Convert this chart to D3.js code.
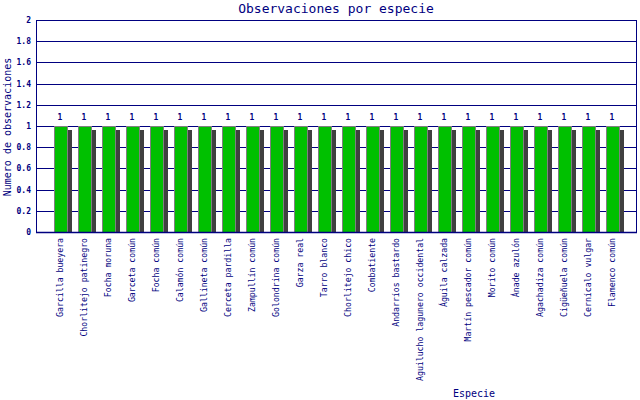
<!DOCTYPE html>
<html>
<head>
<meta charset="utf-8">
<script src="https://cdn.jsdelivr.net/npm/d3@7"></script>
<style>
  body { margin: 0; background: #fff; }
  text { font-family: "DejaVu Sans Mono", monospace; fill: #000080; }
</style>
</head>
<body>
<div id="chart"></div>
<script>
// Data
const species = [
  'Garcilla bueyera', 'Chorlitejo patinegro', 'Focha moruna', 'Garceta común',
  'Focha común', 'Calamón común', 'Gallineta común', 'Cerceta pardilla',
  'Zampullín común', 'Golondrina común', 'Garza real', 'Tarro blanco',
  'Chorlitejo chico', 'Combatiente', 'Andarríos bastardo', 'Aguilucho lagunero occidental',
  'Águila calzada', 'Martín pescador común', 'Morito común', 'Ánade azulón',
  'Agachadiza común', 'Cigüeñuela común', 'Cernícalo vulgar', 'Flamenco común'
];
const counts = [1, 1, 1, 1, 1, 1, 1, 1, 1, 1, 1, 1, 1, 1, 1, 1, 1, 1, 1, 1, 1, 1, 1, 1];
const yTicks = [0, 0.2, 0.4, 0.6, 0.8, 1, 1.2, 1.4, 1.6, 1.8, 2];

const data = species.map((s, i) => ({ name: s, value: counts[i] }));

const width = 640, height = 400;
const plot = { left: 36, right: 636, top: 20, bottom: 232 };

const svg = d3.select('#chart').append('svg')
  .attr('width', width)
  .attr('height', height);

const xScale = d3.scaleBand().domain(species).range([48, 624]);
const yScale = d3.scaleLinear().domain([0, 2]).range([plot.bottom, plot.top]);

// Grid lines
svg.append('g')
  .selectAll('line')
  .data(yTicks)
  .enter()
  .append('line')
  .attr('x1', plot.left)
  .attr('x2', plot.right)
  .attr('y1', (d) => Math.round(yScale(d)) + 0.5)
  .attr('y2', (d) => Math.round(yScale(d)) + 0.5)
  .attr('stroke', '#000080')
  .attr('stroke-width', 1);

// Right frame line
svg.append('line')
  .attr('x1', plot.right + 0.5).attr('x2', plot.right + 0.5)
  .attr('y1', plot.top).attr('y2', plot.bottom + 1)
  .attr('stroke', '#000080');

// Bar shadows
svg.append('g')
  .selectAll('rect')
  .data(data)
  .enter()
  .append('rect')
  .attr('x', (d) => xScale(d.name) + 20)
  .attr('y', (d) => yScale(d.value) + 4)
  .attr('width', 4)
  .attr('height', (d) => plot.bottom - yScale(d.value) - 4)
  .attr('fill', '#404040');

// Bars
svg.append('g')
  .selectAll('rect')
  .data(data)
  .enter()
  .append('rect')
  .attr('x', (d) => xScale(d.name) + 6.5)
  .attr('y', (d) => yScale(d.value) + 0.5)
  .attr('width', 13)
  .attr('height', (d) => plot.bottom - yScale(d.value))
  .attr('fill', '#00c000')
  .attr('stroke', '#808080')
  .attr('stroke-width', 1);

// Value labels
svg.append('g')
  .selectAll('text')
  .data(data)
  .enter()
  .append('text')
  .attr('x', (d) => xScale(d.name) + 12)
  .attr('y', (d) => yScale(d.value) - 6)
  .attr('text-anchor', 'middle')
  .style('font-size', '8px')
  .style('font-weight', 'bold')
  .text((d) => d.value);

// Axes lines
svg.append('line')
  .attr('x1', plot.left + 0.5).attr('x2', plot.left + 0.5)
  .attr('y1', plot.top).attr('y2', plot.bottom + 1)
  .attr('stroke', '#000080');
svg.append('line')
  .attr('x1', plot.left).attr('x2', plot.right + 1)
  .attr('y1', plot.bottom + 0.5).attr('y2', plot.bottom + 0.5)
  .attr('stroke', '#000080').attr('stroke-width', 1.5);

// Y tick labels
svg.append('g')
  .selectAll('text')
  .data(yTicks)
  .enter()
  .append('text')
  .attr('x', 31)
  .attr('y', (d) => yScale(d) + 3)
  .attr('text-anchor', 'end')
  .style('font-size', '8px')
  .style('font-weight', 'bold')
  .text((d) => d3.format('~g')(d));

// X category labels (rotated)
svg.append('g')
  .selectAll('text')
  .data(species)
  .enter()
  .append('text')
  .attr('transform', (d) => 'translate(' + (xScale(d) + 15) + ',238) rotate(-90)')
  .attr('text-anchor', 'end')
  .style('font-size', '8.2px')
  .text((d) => d);

// Title
svg.append('text')
  .attr('x', 336)
  .attr('y', 13)
  .attr('text-anchor', 'middle')
  .style('font-size', '13px')
  .text('Observaciones por especie');

// Axis titles
svg.append('text')
  .attr('x', 474)
  .attr('y', 397)
  .attr('text-anchor', 'middle')
  .style('font-size', '10px')
  .text('Especie');

svg.append('text')
  .attr('transform', 'translate(11,127) rotate(-90)')
  .attr('text-anchor', 'middle')
  .style('font-size', '10px')
  .text('Numero de observaciones');
</script>
</body>
</html>
